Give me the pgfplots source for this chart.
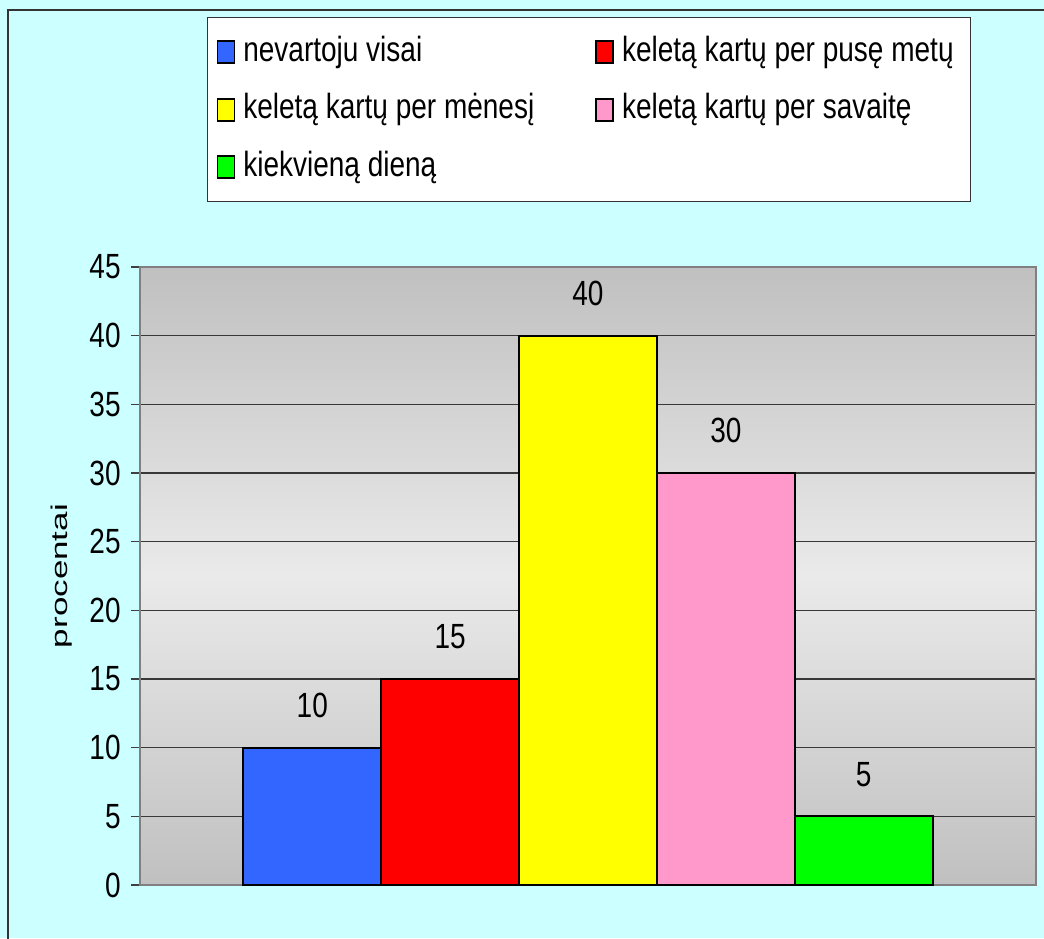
\documentclass[border=0pt]{standalone}
\usepackage{fontspec}
\setmainfont{Liberation Sans}[FakeStretch=0.8]
\newfontfamily\ylabfont{Liberation Sans}
\usepackage{graphicx}
\usepackage{pgfplots}
\pgfplotsset{compat=1.18}
\definecolor{bgcyan}{HTML}{CCFFFF}
\definecolor{cblue}{HTML}{3366FF}
\definecolor{cred}{HTML}{FF0000}
\definecolor{cyellow}{HTML}{FFFF00}
\definecolor{cpink}{HTML}{FF99CC}
\definecolor{cgreen}{HTML}{00FF00}
\definecolor{gdark}{HTML}{C0C0C0}
\definecolor{glight}{HTML}{EAEAEA}
\newcommand{\chartfont}{\fontsize{17.5pt}{21pt}\selectfont}
\newcommand{\colone}[1]{\makebox[172pt][l]{#1}}
\pgfplotsset{
  mybar/.style={ybar, bar width=1, bar shift=0pt, draw=black, line width=1pt, fill=#1,
    legend image code/.code={\draw[fill=#1, draw=black, line width=0.9pt] (0pt,-5.5pt) rectangle (8.5pt,5.5pt);}}
}
\begin{document}
\begin{tikzpicture}
\useasboundingbox (0,0) rectangle (522pt,-469pt);
\fill[bgcyan] (0,0) rectangle (522pt,-469pt);
\draw[black!80, line width=1.2pt] (4pt,-470pt) -- (4pt,-5pt) -- (523pt,-5pt);
\begin{axis}[
  at={(70pt,-442.5pt)}, anchor=south west,
  width=448pt, height=309pt, scale only axis,
  xmin=-1.25, xmax=5.25, ymin=0, ymax=45,
  ytick={0,5,...,45}, xtick=\empty,
  ytick pos=left,
  tick align=outside, major tick length=4.5pt,
  major tick style={black!75, line width=0.7pt},
  ymajorgrids,
  major grid style={black!78, line width=0.55pt},
  axis line style={draw=black!50, line width=1pt},
  axis background/.style={top color=gdark, bottom color=gdark, middle color=glight},
  ticklabel style={font=\chartfont},
  yticklabel style={inner sep=0pt, xshift=-5pt},
  /pgf/number format/assume math mode=true,
  nodes near coords,
  nodes near coords style={font=\chartfont, anchor=south, inner sep=0pt, yshift=14.5pt, text=black},
  every axis y label/.style={at={(axis description cs:-0.0871,0.5)}, rotate=90, anchor=center},
  ylabel={\ylabfont\fontsize{17.5pt}{21pt}\selectfont\scalebox{1}[0.65]{procentai}},
  legend columns=2,
  legend style={at={(axis description cs:0.07478,1.40453)}, anchor=north west,
    draw=black!80, line width=0.5pt, fill=white, font=\chartfont,
    inner xsep=4.5pt, inner ysep=3pt, cells={anchor=west},
    nodes={inner xsep=4pt, inner ysep=0pt, text height=13pt, text depth=4pt, minimum height=28.7pt},
    /tikz/every even column/.append style={column sep=0pt}},
]
\addplot[mybar=cblue] coordinates {(0,10)};
\addplot[mybar=cred] coordinates {(1,15)};
\addplot[mybar=cyellow] coordinates {(2,40)};
\addplot[mybar=cpink] coordinates {(3,30)};
\addplot[mybar=cgreen] coordinates {(4,5)};
\legend{\colone{nevartoju visai}, keletą kartų per pusę metų, \colone{keletą kartų per mėnesį}, keletą kartų per savaitę, \colone{kiekvieną dieną}}
\end{axis}
\end{tikzpicture}
\end{document}
